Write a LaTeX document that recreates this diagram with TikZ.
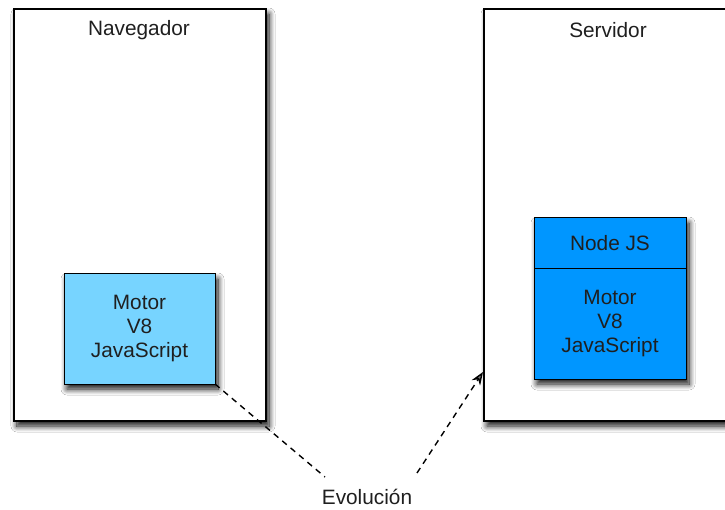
\documentclass[tikz,border=0pt]{standalone}
\usepackage{fontspec}
\setmainfont{Liberation Sans}
\usetikzlibrary{shadows.blur,arrows.meta}
\definecolor{lightblue}{HTML}{77D4FF}
\definecolor{midblue}{HTML}{0096FF}
\tikzset{
  shad/.style={blur shadow={shadow xshift=3pt, shadow yshift=-5pt, shadow blur steps=10, shadow blur radius=6pt, shadow opacity=95}},
  frame/.style={draw=black, line width=1.2pt, fill=white, shad},
  engine/.style={draw=black, line width=1pt, shad},
  lbl/.style={font=\fontsize{20.8}{24}\selectfont, align=center, text=black!88},
  evo/.style={line width=1.4pt, dash pattern=on 6pt off 5pt}
}
\begin{document}
\begin{tikzpicture}[x=1pt,y=-1pt]
\useasboundingbox (0,0) rectangle (725,510);
\fill[white] (0,0) rectangle (725,510);
\draw[frame] (14,9) rectangle (266,421);
\draw[frame] (484,9) rectangle (745,421);
\node[lbl] (nav) at (139,30) {Navegador};
\node[lbl] (srv) at (608,30) {Servidor};
\draw[engine, fill=lightblue] (64,274) rectangle (215,384);
\node[lbl] (motor1) at (139.5,329) {Motor\\V8\\JavaScript};
\coordinate (m1br) at (215,384);
\draw[engine, fill=midblue] (534,218) rectangle (686,379);
\draw[line width=1pt] (534,269) -- (686,269);
\node[lbl] (nodejs) at (610,243) {Node JS};
\node[lbl] (motor2) at (610,324) {Motor\\V8\\JavaScript};
\coordinate (srvleft) at (483,372);
\node[lbl] (evo) at (367,497) {Evolución};
\coordinate (e1) at (325,477);
\coordinate (e2) at (417,473);
\draw[evo] (m1br) -- (e1);
\draw[evo, -{Stealth[length=13pt,width=10pt]}] (e2) -- (srvleft);
\end{tikzpicture}
\end{document}
